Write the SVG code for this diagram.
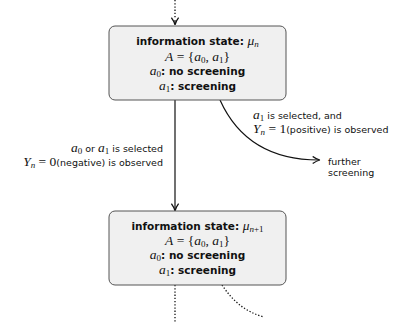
<svg xmlns="http://www.w3.org/2000/svg" width="401" height="322" viewBox="0 0 401 322">
<style>
.box{fill:#f0f0f0;stroke:#555;stroke-width:1}
.bt{font-family:"DejaVu Sans","Liberation Sans",sans-serif;font-weight:bold;font-size:10.5px;fill:#111;text-anchor:middle}
.lt{font-family:"DejaVu Sans","Liberation Sans",sans-serif;font-size:9.5px;fill:#111}
.m{font-family:"Liberation Serif","Times New Roman",serif;font-style:italic;font-weight:normal;font-size:13.5px}
.mr{font-family:"Liberation Serif","Times New Roman",serif;font-style:normal;font-weight:normal;font-size:13.5px}
.sub{font-size:9px}
.ln{fill:none;stroke:#111;stroke-width:1.2}
.dot{fill:none;stroke:#111;stroke-width:1.3;stroke-dasharray:1.3 1.9}
</style>
<defs>
<marker id="ah" viewBox="0 0 10 10" refX="8" refY="5" markerWidth="9" markerHeight="9" markerUnits="userSpaceOnUse" orient="auto">
<path d="M1 1 Q5 4 9 5 Q5 6 1 9" fill="none" stroke="#111" stroke-width="1.4"/>
</marker>
</defs>
<g id="connectors">
<path class="dot" d="M175 0 V19"/>
<path class="ln" d="M175 20 V24" marker-end="url(#ah)"/>
<path class="ln" d="M175 100 V210" marker-end="url(#ah)"/>
<path class="ln" d="M220 100 C238 140 270 160 319 160" marker-end="url(#ah)"/>
<path class="dot" d="M175 285 V322"/>
<path class="dot" d="M222 285 C232 300 245 312 264 317"/>
</g>
<g id="node1">
<rect class="box" x="109" y="26" width="177" height="74" rx="6"/>
<text class="bt" x="197.5" y="45">information state: <tspan class="m">μ</tspan><tspan class="m sub" dy="2">n</tspan></text>
<text class="bt" x="197.5" y="61"><tspan class="m">A</tspan><tspan class="mr"> = {</tspan><tspan class="m">a</tspan><tspan class="mr sub" dy="2">0</tspan><tspan class="mr" dy="-2">, </tspan><tspan class="m">a</tspan><tspan class="mr sub" dy="2">1</tspan><tspan class="mr" dy="-2">}</tspan></text>
<text class="bt" x="197.5" y="75"><tspan class="m">a</tspan><tspan class="mr sub" dy="2">0</tspan><tspan dy="-2">: no screening</tspan></text>
<text class="bt" x="197.5" y="90"><tspan class="m">a</tspan><tspan class="mr sub" dy="2">1</tspan><tspan dy="-2">: screening</tspan></text>
</g>
<g id="node2">
<rect class="box" x="109" y="211" width="177" height="74" rx="6"/>
<text class="bt" x="197.5" y="230">information state: <tspan class="m">μ</tspan><tspan class="m sub" dy="2">n</tspan><tspan class="mr sub">+1</tspan></text>
<text class="bt" x="197.5" y="245"><tspan class="m">A</tspan><tspan class="mr"> = {</tspan><tspan class="m">a</tspan><tspan class="mr sub" dy="2">0</tspan><tspan class="mr" dy="-2">, </tspan><tspan class="m">a</tspan><tspan class="mr sub" dy="2">1</tspan><tspan class="mr" dy="-2">}</tspan></text>
<text class="bt" x="197.5" y="259"><tspan class="m">a</tspan><tspan class="mr sub" dy="2">0</tspan><tspan dy="-2">: no screening</tspan></text>
<text class="bt" x="197.5" y="274"><tspan class="m">a</tspan><tspan class="mr sub" dy="2">1</tspan><tspan dy="-2">: screening</tspan></text>
</g>
<g id="node3">
<text class="lt" x="328" y="165">further</text>
<text class="lt" x="328" y="176">screening</text>
</g>
<g id="labels">
<text class="lt" x="163" y="152" text-anchor="end"><tspan class="m">a</tspan><tspan class="mr sub" dy="1.5">0</tspan><tspan dy="-1.5"> or </tspan><tspan class="m">a</tspan><tspan class="mr sub" dy="1.5">1</tspan><tspan dy="-1.5"> is selected</tspan></text>
<text class="lt" x="163" y="166" text-anchor="end"><tspan class="m">Y</tspan><tspan class="m sub" dy="1.5">n</tspan><tspan class="mr" dy="-1.5"> = 0</tspan>(negative) is observed</text>
<text class="lt" x="253" y="119"><tspan class="m">a</tspan><tspan class="mr sub" dy="1.5">1</tspan><tspan dy="-1.5"> is selected, and</tspan></text>
<text class="lt" x="253" y="133"><tspan class="m">Y</tspan><tspan class="m sub" dy="1.5">n</tspan><tspan class="mr" dy="-1.5"> = 1</tspan>(positive) is observed</text>
</g>
</svg>
